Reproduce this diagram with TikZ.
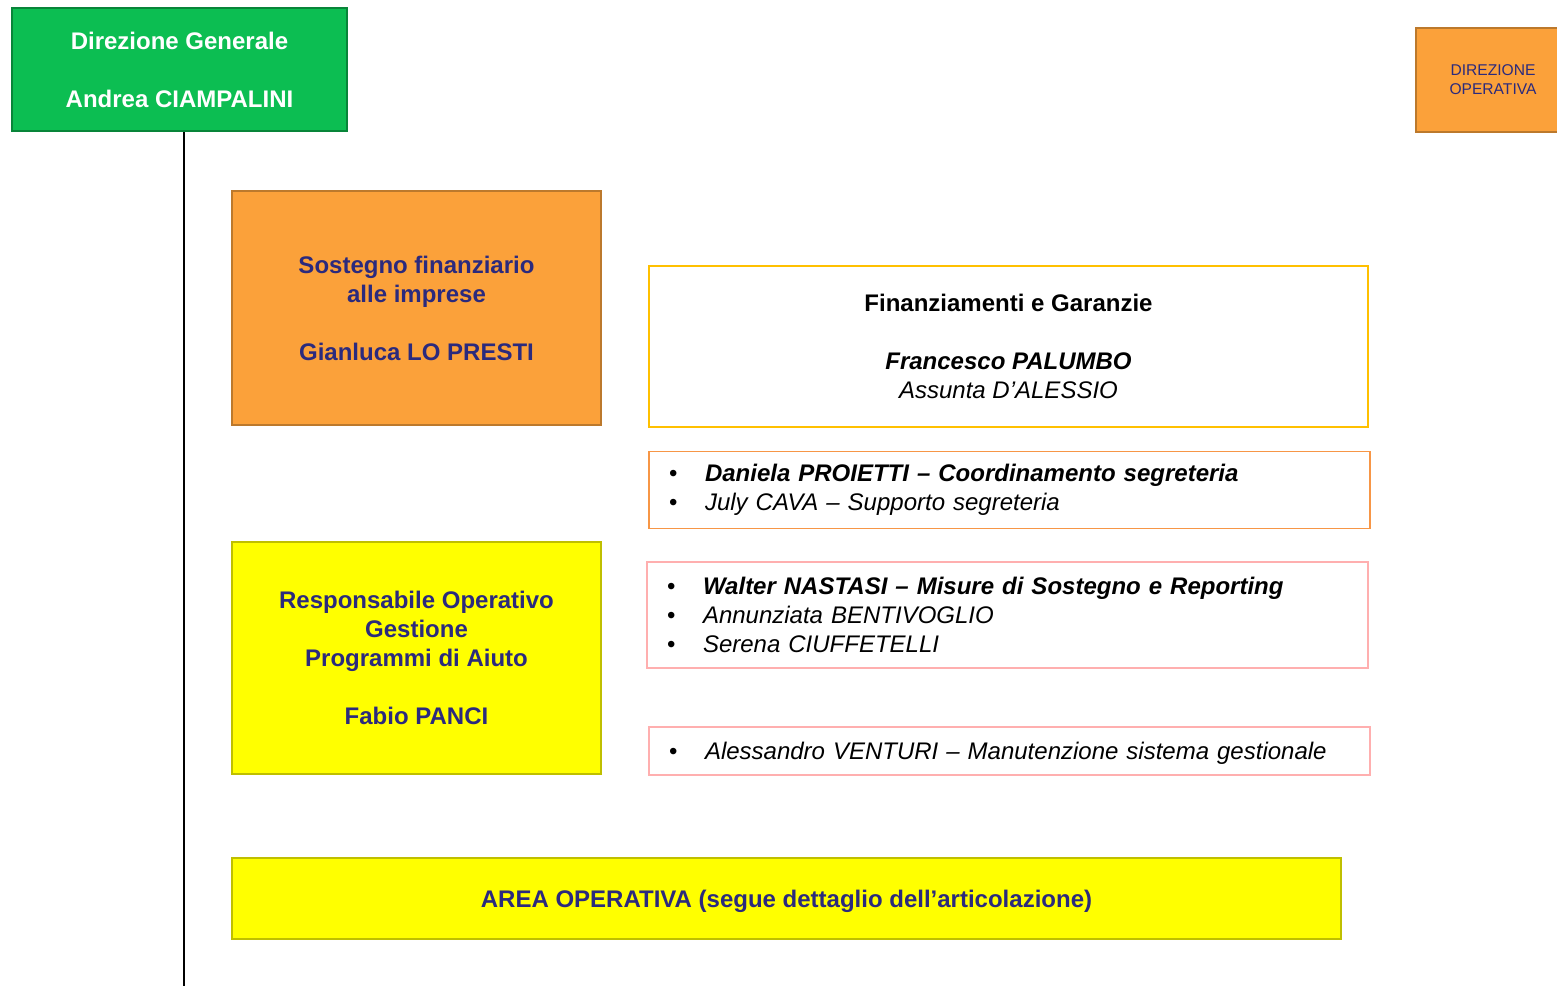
\documentclass[tikz,border=0pt]{standalone}
\usepackage{xcolor}
\usepackage{fontspec}
\setmainfont{Liberation Sans}
\usepackage{tikz}

\definecolor{navy}{RGB}{43,42,125}
\definecolor{dgreen}{RGB}{12,190,82}
\definecolor{dorange}{RGB}{251,161,58}
\definecolor{dyellow}{RGB}{255,255,0}
\definecolor{gold}{RGB}{255,192,0}
\definecolor{lorange}{RGB}{247,150,70}
\definecolor{lpink}{RGB}{255,175,175}
\newcommand{\bul}{\makebox[18pt][l]{\upshape\textbullet}}

\begin{document}
\begin{tikzpicture}[x=0.5pt,y=-0.5pt,
  fillbox/.style={draw,line width=1pt,inner sep=0pt,align=center,text=navy,font=\fontsize{12}{14.5}\selectfont\bfseries},
  linebox/.style={draw,line width=0.9pt,inner sep=0pt,align=center,font=\fontsize{12}{14.5}\selectfont},
  listbox/.style={draw,line width=0.9pt,inner xsep=10pt,inner ysep=0pt,text width=340.5pt,align=left,font=\fontsize{12}{14.5}\selectfont\itshape}]
\useasboundingbox (0,0) rectangle (1557,986);
\node [fillbox,fill=dgreen,draw=dgreen!70!black,text=white,minimum width=167.5pt,minimum height=61.5pt] (dg) at (179.5,69.5) {Direzione Generale\\[14.5pt]Andrea CIAMPALINI};
\node [fillbox,fill=dorange,draw=dorange!75!black,font=\fontsize{7.8}{9.5}\selectfont,minimum width=77pt,minimum height=52pt] (do) at (1493,80) {DIREZIONE\\OPERATIVA};
\node [fillbox,fill=dorange,draw=dorange!75!black,minimum width=184.5pt,minimum height=117pt] (sfi) at (416.5,308) {Sostegno finanziario\\alle imprese\\[14.5pt]Gianluca LO PRESTI};
\node [linebox,draw=gold,minimum width=359.5pt,minimum height=80.5pt] (fg) at (1008.5,346.5) {\textbf{Finanziamenti e Garanzie}\\[14.5pt]\textbf{\textit{Francesco PALUMBO}}\\\textit{Assunta D’ALESSIO}};
\node [listbox,draw=lorange,minimum height=38.5pt] (seg) at (1009.5,490) {\bul\textbf{Daniela PROIETTI – Coordinamento segreteria}\\\bul July CAVA – Supporto segreteria};
\node [fillbox,fill=dyellow,draw=dyellow!75!black,minimum width=184.5pt,minimum height=116pt] (resp) at (416.5,658) {Responsabile Operativo\\Gestione\\Programmi di Aiuto\\[14.5pt]Fabio PANCI};
\node [listbox,draw=lpink,minimum height=53pt] (msr) at (1007.5,615) {\bul\textbf{Walter NASTASI – Misure di Sostegno e Reporting}\\\bul Annunziata BENTIVOGLIO\\\bul Serena CIUFFETELLI};
\node [listbox,draw=lpink,text depth=0pt,minimum height=24pt] (msg) at (1009.5,751) {\bul Alessandro VENTURI – Manutenzione sistema gestionale};
\node [fillbox,fill=dyellow,draw=dyellow!75!black,text depth=0pt,minimum width=554.5pt,minimum height=40.5pt] (area) at (786.5,898.5) {AREA OPERATIVA (segue dettaglio dell’articolazione)};
\coordinate (lineend) at (184,986);
\draw [line width=1pt] (dg.south -| lineend) -- (lineend);
\end{tikzpicture}
\end{document}
